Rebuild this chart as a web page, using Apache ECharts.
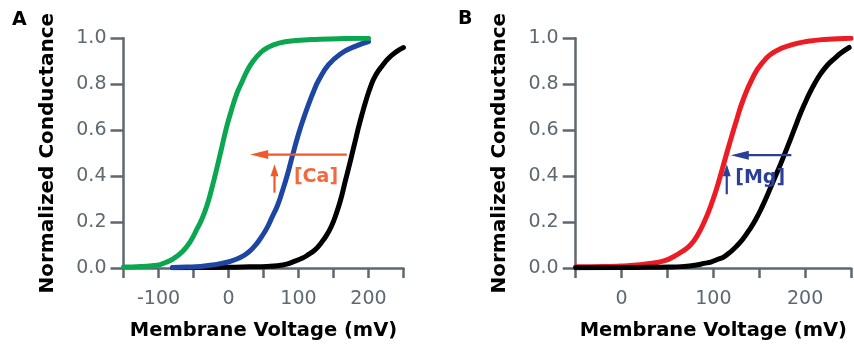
<!DOCTYPE html>
<html><head><meta charset="utf-8">
<script src="https://cdn.jsdelivr.net/npm/echarts@6/dist/echarts.min.js"></script>
<style>html,body{margin:0;padding:0;background:#fff}#c{width:854px;height:346px}</style>
</head><body><div id="c"></div>
<script>
// ---------- Panel A data (Membrane Voltage mV -> Normalized Conductance) ----------
const greenAV = [-150,-125,-102,-90,-78,-65,-55,-45,-38,-31,-24,-17,-10,-3,3,12,20,26,35,45,55,72,96,130,165,200];
const greenAG = [0.004,0.007,0.012,0.024,0.042,0.074,0.113,0.17,0.213,0.27,0.345,0.43,0.52,0.61,0.675,0.76,0.815,0.855,0.9,0.935,0.958,0.979,0.99,0.996,0.999,1.0];

const blueAV = [-80,-60,-40,-20,-2,10,21,30,40,48,55,62,70,77,84,91,100,108,115,122,129,143,162,181,200];
const blueAG = [0.002,0.004,0.007,0.014,0.025,0.037,0.053,0.072,0.105,0.14,0.175,0.22,0.272,0.335,0.405,0.485,0.583,0.658,0.718,0.772,0.818,0.885,0.936,0.965,0.986];

const blackAV = [-80,-40,0,30,55,70,83,95,105,114,124,132,140,147,153,160,167,172,177,182,186,191,196,203,210,220,229,240,250];
const blackAG = [0.001,0.002,0.003,0.005,0.007,0.01,0.017,0.03,0.042,0.058,0.08,0.108,0.142,0.182,0.228,0.295,0.38,0.44,0.502,0.565,0.615,0.672,0.725,0.79,0.838,0.882,0.914,0.942,0.96];

// ---------- Panel B data ----------
const redBV = [-50,-20,0,20,35,47,57,66,75,83,90,96,103,110,117.5,125,132,142.5,153,167.5,185,203,221,250];
const redBG = [0.005,0.006,0.009,0.014,0.022,0.032,0.05,0.072,0.1,0.145,0.2,0.258,0.338,0.435,0.54,0.64,0.727,0.825,0.892,0.943,0.971,0.987,0.995,1.0];

const blackBV = [-50,0,30,53,65,80,90,98,105,112,120,126,132,139,146,153,160,167.5,173,178.3,184,189,194,199.6,205,210.4,217,224.7,232,239,248];
const blackBG = [0.001,0.002,0.003,0.004,0.006,0.012,0.02,0.027,0.038,0.05,0.075,0.098,0.125,0.165,0.21,0.265,0.328,0.398,0.45,0.502,0.56,0.612,0.664,0.716,0.762,0.803,0.846,0.885,0.912,0.936,0.96];

// ---------- Annotations (data coordinates: [fromV, fromG, toV, toG]) ----------
const caArrows = [[169, 0.494, 31, 0.494], [65.7, 0.328, 65.7, 0.452]];
const caLabelPos = [[125, 0.397]];
const caLabelText = ['[Ca]'];
const mgArrows = [[185, 0.491, 119, 0.491], [114.6, 0.321, 114.6, 0.452]];
const mgLabelPos = [[151, 0.39]];
const mgLabelText = ['[Mg]'];

// ---------- Axis settings ----------
const xRangeA = [-150, 250];
const xRangeB = [-50, 250];
const xStep = 50;
const yRange = [0, 1];
const yStep = 0.2;
const axisTitleX = 'Membrane Voltage (mV)';
const axisTitleY = 'Normalized Conductance';
const panelLetters = ['A', 'B'];

const pairs = (xs, ys) => xs.map((x, i) => [x, ys[i]]);
const AXC = '#5d6870';
const tickFont = 'DejaVu Sans';
const titleFont = 'DejaVu Sans';

function xAxis(grid, range) {
  return {
    type: 'value', gridIndex: grid, min: range[0], max: range[1], interval: xStep,
    axisLine: {show: true, onZero: false, lineStyle: {color: AXC, width: 2.5}},
    axisTick: {show: true, inside: false, length: 10, lineStyle: {color: AXC, width: 2.5}},
    axisLabel: {show: true, interval: 0, margin: 22, color: AXC, fontFamily: tickFont, fontSize: 19,
      formatter: v => (v % 100 === 0 ? String(v) : '')},
    splitLine: {show: false},
    name: axisTitleX, nameLocation: 'middle', nameGap: 53,
    nameTextStyle: {color: '#000', fontFamily: titleFont, fontWeight: 'bold', fontSize: 19.5}
  };
}
function yAxis(grid) {
  return {
    type: 'value', gridIndex: grid, min: yRange[0], max: yRange[1], interval: yStep,
    axisLine: {show: true, onZero: false, lineStyle: {color: AXC, width: 2.5}},
    axisTick: {show: true, inside: false, length: 13, lineStyle: {color: AXC, width: 2.5}},
    axisLabel: {show: true, margin: 17, color: AXC, fontFamily: tickFont, fontSize: 19,
      formatter: v => v.toFixed(1)},
    splitLine: {show: false},
    name: axisTitleY, nameLocation: 'middle', nameGap: 66, nameRotate: 90,
    nameTextStyle: {color: '#000', fontFamily: titleFont, fontWeight: 'bold', fontSize: 20}
  };
}
function curve(grid, data, color) {
  return {
    type: 'line', xAxisIndex: grid, yAxisIndex: grid, data: data,
    smooth: 0.5, showSymbol: false, symbol: 'none',
    lineStyle: {color: color, width: 5, cap: 'round', join: 'round'},
    silent: true, z: 3
  };
}
function arrowSeries(grid, arrows, color) {
  return {
    type: 'custom', coordinateSystem: 'cartesian2d', xAxisIndex: grid, yAxisIndex: grid,
    data: arrows, silent: true, z: 5, clip: false,
    renderItem: function (params, api) {
      const p1 = api.coord([api.value(0), api.value(1)]);
      const p2 = api.coord([api.value(2), api.value(3)]);
      const dx = p2[0] - p1[0], dy = p2[1] - p1[1];
      const len = Math.hypot(dx, dy);
      const ux = dx / len, uy = dy / len;
      const horiz = Math.abs(dx) > Math.abs(dy);
      const hl = horiz ? 18 : 12, hw = horiz ? 4.5 : 4;
      const bx = p2[0] - ux * hl, by = p2[1] - uy * hl;
      const nx = -uy, ny = ux;
      return {type: 'group', children: [
        {type: 'line', shape: {x1: p1[0], y1: p1[1], x2: bx + ux * 2, y2: by + uy * 2},
          style: {stroke: color, lineWidth: 2.2}},
        {type: 'polygon', shape: {points: [[p2[0], p2[1]], [bx + nx * hw, by + ny * hw], [bx - nx * hw, by - ny * hw]]},
          style: {fill: color}}
      ]};
    }
  };
}
function labelSeries(grid, pos, texts, color) {
  return {
    type: 'custom', coordinateSystem: 'cartesian2d', xAxisIndex: grid, yAxisIndex: grid,
    data: pos, silent: true, z: 6, clip: false,
    renderItem: function (params, api) {
      const p = api.coord([api.value(0), api.value(1)]);
      return {type: 'text', x: p[0], y: p[1], style: {
        text: texts[params.dataIndex], fill: color, fontFamily: titleFont, fontWeight: 'bold', fontSize: 19,
        align: 'center', verticalAlign: 'middle'}};
    }
  };
}

const chart = echarts.init(document.getElementById('c'), null, {renderer: 'canvas'});
chart.setOption({
  animation: false,
  backgroundColor: '#ffffff',
  grid: [
    {left: 123.5, top: 38.3, width: 280, height: 230.7, containLabel: false},
    {left: 575.7, top: 38.3, width: 280, height: 230.7, containLabel: false}
  ],
  xAxis: [xAxis(0, xRangeA), xAxis(1, xRangeB)],
  yAxis: [yAxis(0), yAxis(1)],
  graphic: [
    {type: 'text', left: 12, top: 11, style: {text: panelLetters[0], fill: '#000', fontFamily: titleFont, fontWeight: 'bold', fontSize: 19}},
    {type: 'text', left: 458, top: 10, style: {text: panelLetters[1], fill: '#000', fontFamily: titleFont, fontWeight: 'bold', fontSize: 19}}
  ],
  series: [
    curve(0, pairs(blackAV, blackAG), '#000000'),
    curve(0, pairs(blueAV, blueAG), '#1d46a3'),
    curve(0, pairs(greenAV, greenAG), '#0ba650'),
    arrowSeries(0, caArrows, '#f05a2a'),
    labelSeries(0, caLabelPos, caLabelText, '#f26a3c'),
    curve(1, pairs(redBV, redBG), '#ed1c24'),
    curve(1, pairs(blackBV, blackBG), '#000000'),
    arrowSeries(1, mgArrows, '#2b3f96'),
    labelSeries(1, mgLabelPos, mgLabelText, '#2b3f96')
  ]
});
</script>
</body></html>
